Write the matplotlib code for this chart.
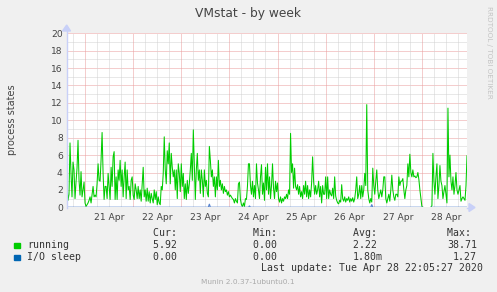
import numpy as np
import matplotlib
matplotlib.use("Agg")
import matplotlib.pyplot as plt
from datetime import datetime, timedelta

nan = float("nan")

# running processes, 30 minute samples from 20 Apr 15:00
running = [
    2.8, 0.8, 1.5, 7.4, 3.9, 1.2, 5.2, 4.3, 1.0, 2.9, 4.5, 7.7, 3.1, 1.4, 4.1, 1.2, 2.0, 2.9, 0.5, 0.1,
    0.3, 0.5, 0.8, 1.2, 0.5, 1.4, 2.4, 1.2, 1.4, 1.2, 2.7, 5.0, 3.1, 3.0, 5.5, 8.6, 3.9, 0.9, 2.4, 2.4,
    1.0, 3.9, 2.4, 0.9, 4.6, 2.4, 5.8, 6.4, 0.9, 3.5, 0.9, 4.3, 3.1, 5.4, 2.4, 4.3, 1.2, 3.5, 5.2, 1.0,
    4.3, 2.0, 2.4, 0.9, 3.1, 3.5, 1.4, 0.9, 2.7, 2.0, 1.0, 2.4, 1.0, 2.0, 0.7, 2.7, 4.6, 1.2, 2.0, 0.7,
    2.2, 0.7, 1.8, 0.5, 1.6, 1.0, 0.5, 2.0, 0.9, 1.8, 0.3, 1.2, 0.5, 0.3, 2.4, 2.0, 3.9, 8.1, 4.3, 2.7,
    6.5, 5.0, 7.4, 2.7, 6.2, 4.6, 3.5, 4.3, 2.0, 4.3, 1.0, 5.0, 3.9, 1.8, 5.0, 2.4, 3.9, 1.0, 2.7, 0.9,
    3.1, 1.6, 2.7, 4.3, 6.2, 3.1, 8.9, 5.0, 0.9, 4.3, 6.2, 3.1, 4.3, 1.6, 4.3, 3.1, 1.2, 4.3, 2.4, 3.1,
    1.6, 1.2, 7.0, 5.4, 3.5, 4.3, 2.4, 3.5, 1.2, 3.5, 2.0, 5.4, 2.4, 3.1, 2.0, 2.7, 1.6, 2.4, 1.8, 2.0,
    1.4, 1.8, 1.2, 1.4, 1.2, 1.0, 0.9, 0.5, 1.0, 0.7, 0.5, 2.7, 2.9, 0.9, 0.3, 0.1, 0.5, 0.1, 1.0, 0.9,
    2.4, 5.0, 5.0, 2.5, 1.5, 3.0, 1.2, 2.5, 1.0, 5.0, 2.8, 2.0, 1.0, 3.5, 4.9, 1.5, 2.8, 0.8, 4.6, 2.0,
    5.0, 1.5, 3.5, 1.0, 2.5, 5.0, 2.2, 1.0, 3.0, 1.8, 2.8, 1.0, 0.6, 1.2, 0.5, 1.0, 0.7, 1.2, 1.0, 1.5,
    1.0, 2.0, 1.5, 8.5, 4.0, 5.0, 2.2, 4.5, 2.4, 2.0, 2.6, 1.5, 2.4, 1.2, 1.8, 1.0, 2.5, 1.5, 3.0, 1.2,
    2.5, 1.0, 2.0, 1.2, 2.8, 5.8, 3.0, 1.5, 2.5, 1.5, 2.0, 3.0, 1.2, 2.4, 0.5, 2.5, 1.5, 1.5, 3.5, 1.0,
    3.5, 1.0, 2.0, 1.5, 1.3, 2.2, 1.0, 3.5, 1.3, 0.8, 0.5, 0.4, 0.8, 0.6, 2.6, 1.0, 0.7, 1.2, 0.6, 1.0,
    0.8, 1.2, 0.6, 1.0, 0.7, 1.1, 0.6, 1.0, 2.0, 3.5, 1.0, 1.5, 2.5, 1.0, 2.5, 1.2, 2.0, 3.9, 2.5, 11.8,
    2.0, 1.0, 0.5, 1.0, 0.6, 4.5, 2.5, 1.5, 3.0, 4.3, 2.0, 1.0, 1.5, 2.0, 1.2, 2.0, 3.5, 3.5, 1.0, 0.5,
    1.0, 1.5, 0.7, 2.0, 3.7, 2.0, 1.2, 0.8, 1.5, 1.5, 1.2, 3.5, 2.5, 3.0, 3.0, 3.3, 2.0, 1.0, 2.0, 2.5,
    5.0, 3.5, 6.1, 4.0, 3.5, 4.3, 3.5, 3.6, 3.4, 3.5, 4.0, 3.2, 2.0, 1.0, 0.1, 0.0, nan, nan, nan, nan,
    nan, nan, nan, 0.0, 0.2, 6.2, 3.0, 1.5, 3.5, 5.0, 1.0, 2.5, 4.8, 3.0, 2.5, 1.0, 1.8, 2.5, 1.5, 0.5,
    11.4, 3.5, 6.0, 3.0, 2.0, 3.5, 1.5, 2.5, 4.0, 2.0, 1.5, 2.0, 2.5, 0.7, 1.0, 1.2, 1.0, 0.8, 2.5, 5.92,
]
# I/O sleep is zero except for a few small bumps (sample index -> value)
io_bumps = {142: 0.35, 182: 0.15, 304: 0.3}
gap = (356, 363)  # unknown samples

start = datetime(2020, 4, 20, 15, 0)
step = timedelta(minutes=30)
times = [start + i * step for i in range(len(running))]
io_sleep = np.zeros(len(running))
for k, v in io_bumps.items():
    io_sleep[k] = v
io_sleep[gap[0]:gap[1]] = nan

days = [datetime(2020, 4, d) for d in range(21, 29)]
day_labels = [d.strftime("%d Apr") for d in days]

legend_rows = [
    ("running", "#00cc00", "5.92", "0.00", "2.22 ", "38.71"),
    ("I/O sleep", "#0066b3", "0.00", "0.00", "1.80m", "1.27"),
]

fig = plt.figure(figsize=(4.97, 2.92), dpi=100, facecolor="#f0f0f0")
ax = fig.add_axes([67 / 497, 1 - 207.3 / 292, 400 / 497, 174 / 292])
ax.set_facecolor("white")

ax.set_xlim(times[0], times[-1])
ax.set_ylim(0, 20)

# rrdtool style dotted grid: grey minor, pink major
dot = (0, (1, 1))
grid = dict(lw=0.72, ls=dot, zorder=1)
for h in np.arange(1, 20, 2):
    ax.axhline(h, color="#d2d2d2", **grid)
for h in np.arange(2, 21, 2):
    ax.axhline(h, color="#eb9c9c", **grid)
t = days[0] - timedelta(hours=12)
while t < times[-1]:
    if t.hour != 0 and t > times[0]:
        ax.axvline(t, color="#d2d2d2", **grid)
    t += timedelta(hours=6)
for d in days:
    ax.axvline(d, color="#eb9c9c", **grid)

ax.plot(times, running, color="#00cc00", lw=0.75, zorder=3)
ax.plot(times, io_sleep, color="#5b86cf", lw=0.9, zorder=4)

for s in ax.spines.values():
    s.set_visible(False)
ax.tick_params(length=0, labelsize=6.6, labelcolor="#444", pad=3)
ax.set_yticks(range(0, 21, 2))
ax.set_xticks([d + timedelta(hours=12) for d in days])
ax.set_xticklabels(day_labels)
ax.xaxis.set_tick_params(pad=4)

# axis arrows
fig.add_artist(plt.Line2D([66.7 / 497, 66.7 / 497], [1 - 208 / 292, 1 - 29 / 292],
                          color="#c8d0f8", lw=1))
fig.add_artist(plt.Polygon([[62.5 / 497, 1 - 31 / 292], [70.5 / 497, 1 - 31 / 292],
                            [66.7 / 497, 1 - 25 / 292]], color="#c8d0f8"))
fig.add_artist(plt.Line2D([467 / 497, 470 / 497], [1 - 207.5 / 292, 1 - 207.5 / 292],
                          color="#c8d0f8", lw=1))
fig.add_artist(plt.Polygon([[469 / 497, 1 - 203.5 / 292], [469 / 497, 1 - 211.5 / 292],
                            [475 / 497, 1 - 207.5 / 292]], color="#c8d0f8"))

fig.text(248 / 497, 1 - 13 / 292, "VMstat - by week", ha="center", va="center",
         fontsize=8.8, color="#444")
fig.text(12 / 497, 1 - 120 / 292, "process states", ha="center", va="center",
         rotation=90, fontsize=7, color="#444")
fig.text(489 / 497, 1 - 6 / 292, "RRDTOOL / TOBI OETIKER", ha="center", va="top",
         rotation=270, fontsize=5.2, color="#c4c4c4")

mono = dict(family="DejaVu Sans Mono", fontsize=7.1, color="#333", va="center")
cols = [183, 283, 383, 477]
for x, h in zip(cols, ["Cur:", "Min:", "Avg:", "Max:"]):
    fig.text(x / 497, 1 - 233 / 292, h + " ", ha="right", **mono)
for i, (name, c, cur, mn, avg, mx) in enumerate(legend_rows):
    y = 245 + 12 * i
    fig.add_artist(plt.Rectangle((14 / 497, 1 - (y + 3) / 292), 5.5 / 497, 5.5 / 292,
                                 color=c))
    fig.text(27 / 497, 1 - y / 292, name, ha="left", **mono)
    for x, v in zip(cols, [cur + " ", mn + " ", avg, mx]):
        fig.text(x / 497, 1 - y / 292, v, ha="right", **mono)
fig.text(483 / 497, 1 - 268 / 292, "Last update: Tue Apr 28 22:05:27 2020", ha="right", **mono)
fig.text(248 / 497, 1 - 282 / 292, "Munin 2.0.37-1ubuntu0.1", ha="center", va="center",
         fontsize=5.3, color="#aaaaaa")

fig.savefig("out.png", dpi=100, facecolor=fig.get_facecolor())
